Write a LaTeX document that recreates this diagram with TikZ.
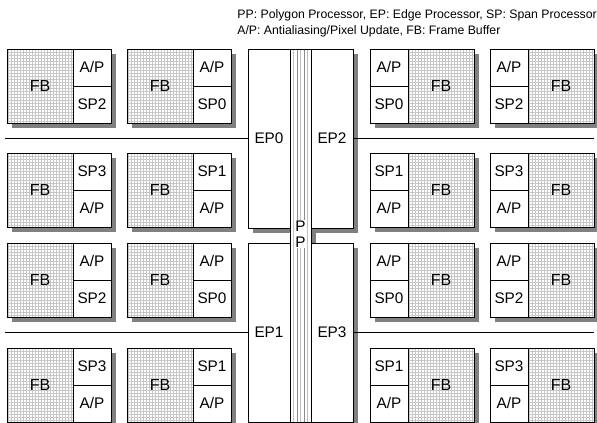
\documentclass[tikz,border=0pt]{standalone}
\usepackage{fontspec}
\setmainfont{Liberation Sans}
\usetikzlibrary{backgrounds,calc}

\tikzset{every picture/.style={line width=0.6pt}}
\tikzset{
  shade/.style={fill=black!50, draw=none},
  fbbox/.style={draw, fill=white, inner sep=0pt, outer sep=0pt,
    minimum width=49.5pt, minimum height=55.5pt, font=\fontsize{12}{13}\selectfont,
    path picture={\draw[black!22, line width=0.5pt, step=2.25pt]
      (path picture bounding box.south west) grid (path picture bounding box.north east);}},
  subbox/.style={draw, fill=white, inner sep=0pt, outer sep=0pt,
    minimum width=28.5pt, minimum height=27.75pt, font=\fontsize{11.5}{13}\selectfont},
  epbox/.style={draw, fill=white, inner sep=0pt, outer sep=0pt,
    minimum width=31.5pt, minimum height=134.25pt, font=\fontsize{11.5}{13}\selectfont},
  ppbox/.style={draw, fill=white, inner sep=0pt, outer sep=0pt,
    minimum width=15.75pt, minimum height=279.75pt,
    path picture={\foreach \k/\c in {1/25,2/45,3/25,4/45,5/25}
      \draw[black!\c, line width=0.6pt]
        ($(path picture bounding box.south west)+(\k*2.625pt,0)$) --
        ($(path picture bounding box.north west)+(\k*2.625pt,0)$);}},
  bus/.style={line width=1.3pt}
}

% board with FB on the left
\newcommand\leftboard[5]{%
  \node[fbbox, anchor=north west] (#1fb) at (#2,#3) {FB};
  \node[subbox, anchor=north west] (#1t) at (#1fb.north east) {#4};
  \node[subbox, anchor=north west] (#1b) at (#1t.south west) {#5};
  \begin{pgfonlayer}{background}
    \fill[shade] ($(#1fb.north west)+(5,5)$) rectangle ($(#1b.south east)+(5,5)$);
  \end{pgfonlayer}}
% board with FB on the right
\newcommand\rightboard[5]{%
  \node[subbox, anchor=north west] (#1t) at (#2,#3) {#4};
  \node[subbox, anchor=north west] (#1b) at (#1t.south west) {#5};
  \node[fbbox, anchor=north west] (#1fb) at (#1t.north east) {FB};
  \begin{pgfonlayer}{background}
    \fill[shade] ($(#1t.north west)+(5,5)$) rectangle ($(#1fb.south east)+(5,5)$);
  \end{pgfonlayer}}

\begin{document}
\begin{tikzpicture}[x=0.75pt,y=0.75pt,yscale=-1,xscale=1]
\useasboundingbox (0,0) rectangle (597,423);

% Legend
\node[anchor=north west, align=left, inner sep=0pt, font=\fontsize{9.2}{12.2}\selectfont] (legend) at (237,9)
  {PP: Polygon Processor, EP: Edge Processor, SP: Span Processor\\A/P: Antialiasing/Pixel Update, FB: Frame Buffer};

% Boards, row 1
\leftboard{ba}{7}{49}{A/P}{SP2}
\leftboard{bb}{127}{49}{A/P}{SP0}
\rightboard{bc}{370}{49}{A/P}{SP0}
\rightboard{bd}{490}{49}{A/P}{SP2}
% Boards, row 2
\leftboard{ca}{7}{153}{SP3}{A/P}
\leftboard{cb}{127}{153}{SP1}{A/P}
\rightboard{cc}{370}{153}{SP1}{A/P}
\rightboard{cd}{490}{153}{SP3}{A/P}
% Boards, row 3
\leftboard{da}{7}{243}{A/P}{SP2}
\leftboard{db}{127}{243}{A/P}{SP0}
\rightboard{dc}{370}{243}{A/P}{SP0}
\rightboard{dd}{490}{243}{A/P}{SP2}
% Boards, row 4
\leftboard{ea}{7}{348}{SP3}{A/P}
\leftboard{eb}{127}{348}{SP1}{A/P}
\rightboard{ec}{370}{348}{SP1}{A/P}
\rightboard{ed}{490}{348}{SP3}{A/P}

% Edge processors and polygon processor
\node[epbox, anchor=north west] (ep0) at (248,49) {EP0};
\node[epbox, anchor=north west] (ep2) at (311,49) {EP2};
\node[epbox, anchor=north west] (ep1) at (248,243) {EP1};
\node[epbox, anchor=north west] (ep3) at (311,243) {EP3};
\node[ppbox, anchor=north west] (pp) at (290,49) {};
\node[fill=white, inner sep=0.4pt, align=center, font=\fontsize{11.5}{12}\selectfont] (pplabel) at (300.5,234) {P\\P};
\begin{pgfonlayer}{background}
  \foreach \n in {ep0,ep1,ep2,ep3,pp}
    \fill[shade] ($(\n.north west)+(5,5)$) rectangle ($(\n.south east)+(5,5)$);
\end{pgfonlayer}

% Buses
\coordinate (bl0) at (5,138.5);
\coordinate (br0) at (594,138.5);
\coordinate (bl1) at (5,332.5);
\coordinate (br1) at (594,332.5);
\draw[bus] (bl0) -- (ep0.west);
\draw[bus] (ep2.east) -- (br0);
\draw[bus] (bl1) -- (ep1.west);
\draw[bus] (ep3.east) -- (br1);

\end{tikzpicture}
\end{document}
